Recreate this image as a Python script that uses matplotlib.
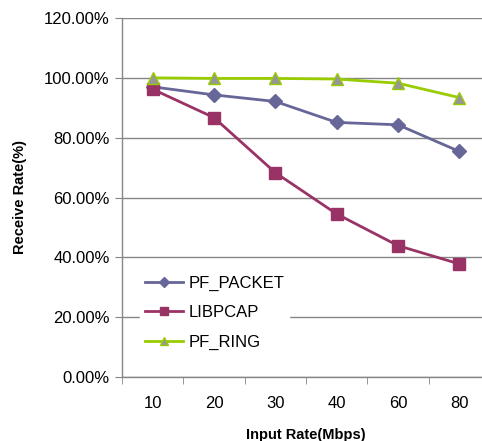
import matplotlib
matplotlib.use("Agg")
import matplotlib.pyplot as plt

categories = ["10", "20", "30", "40", "60", "80"]
pf_packet = [97.0, 94.3, 92.1, 85.1, 84.3, 75.4]
libpcap = [96.2, 86.7, 68.3, 54.5, 43.9, 37.8]
pf_ring = [100.0, 99.8, 99.8, 99.6, 98.2, 93.4]
yticks = [0, 20, 40, 60, 80, 100, 120]

plt.rcParams["font.family"] = ["Liberation Sans", "DejaVu Sans"]

fig = plt.figure(figsize=(4.82, 4.41), dpi=100)
# plot area runs past the right edge, as in the original crop
ax = fig.add_axes([122 / 482, 1 - 377 / 441, 368 / 482, 359 / 441])

x = list(range(len(categories)))
ax.plot(x, pf_packet, color="#666699", lw=2, marker="D", markersize=7,
        markerfacecolor="#666699", markeredgecolor="#666699", label="PF_PACKET", zorder=3)
ax.plot(x, libpcap, color="#993366", lw=2, marker="s", markersize=8,
        markerfacecolor="#993366", markeredgecolor="#993366", label="LIBPCAP", zorder=3)
ax.plot(x, pf_ring, color="#99CC00", lw=2, marker="^", markersize=9,
        markerfacecolor="#969696", markeredgecolor="#99CC00", label="PF_RING", zorder=3)

ax.set_xlim(-0.5, len(categories) - 0.5)
ax.set_ylim(0, 120)
ax.set_yticks(yticks)
ax.set_yticklabels([f"{v:.2f}%" for v in yticks], fontsize=12)
ax.set_xticks(x)
ax.set_xticklabels(categories, fontsize=12)
ax.set_xticks([i - 0.5 for i in range(len(categories) + 1)], minor=True)
ax.tick_params(axis="x", which="major", length=0, pad=14)
ax.tick_params(axis="x", which="minor", length=5, color="#868686", direction="out")
ax.tick_params(axis="y", length=5, color="#868686", direction="out", pad=4)

ax.grid(axis="y", color="#868686", lw=1)
ax.set_axisbelow(True)
for s in ("top", "right"):
    ax.spines[s].set_visible(False)
for s in ("left", "bottom"):
    ax.spines[s].set_color("#868686")
    ax.spines[s].set_linewidth(1)

ax.set_xlabel("Input Rate(Mbps)", fontsize=10.5, fontweight="bold", labelpad=12)
ax.set_ylabel("Receive Rate(%)", fontsize=10.5, fontweight="bold", labelpad=12)

leg = ax.legend(loc="upper left", bbox_to_anchor=(140 / 482, 1 - 271 / 441),
                bbox_transform=fig.transFigure, fontsize=12, frameon=True,
                fancybox=False, framealpha=1, edgecolor="white",
                handlelength=2.3, handletextpad=0.3, labelspacing=0.85,
                borderpad=0.3, borderaxespad=0, markerscale=0.7)

fig.savefig("out.png", dpi=100)
